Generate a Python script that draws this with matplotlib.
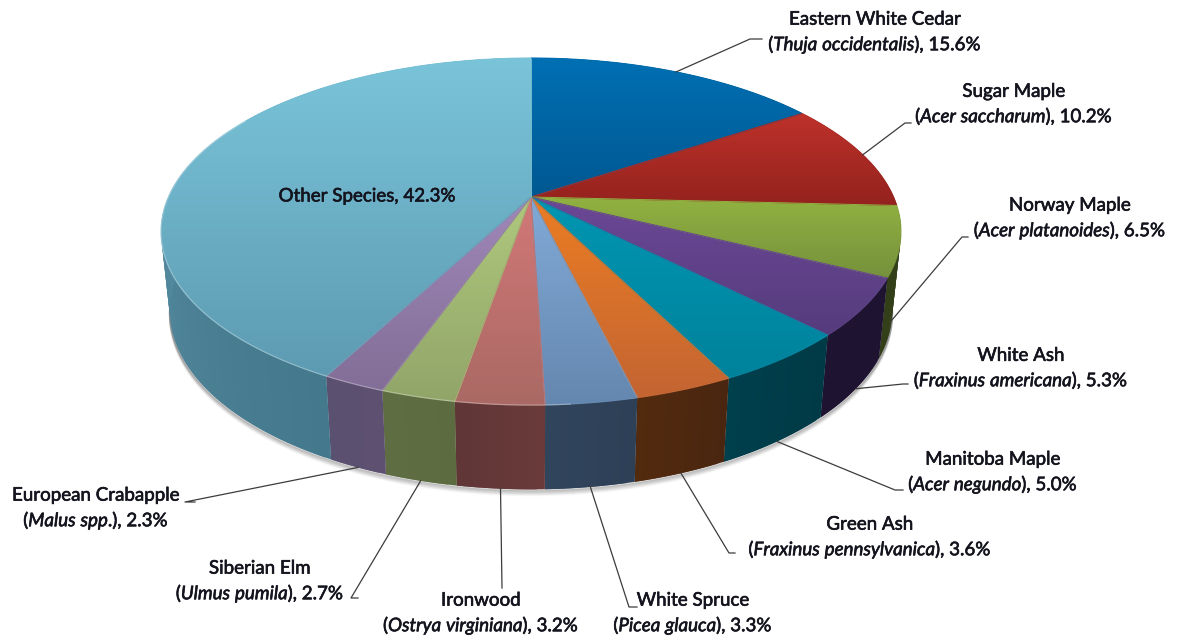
import numpy as np
import matplotlib
matplotlib.use('Agg')
import matplotlib.pyplot as plt
from matplotlib.collections import LineCollection
from matplotlib.patches import Polygon
import matplotlib.patheffects as pe

# species shares, clockwise from 12 o'clock
names = ['Eastern White Cedar', 'Sugar Maple', 'Norway Maple', 'White Ash', 'Manitoba Maple',
         'Green Ash', 'White Spruce', 'Ironwood', 'Siberian Elm', 'European Crabapple', 'Other Species']
latin = ['Thuja occidentalis', 'Acer saccharum', 'Acer platanoides', 'Fraxinus americana', 'Acer negundo',
         'Fraxinus pennsylvanica', 'Picea glauca', 'Ostrya virginiana', 'Ulmus pumila', 'Malus spp', None]
shares = [15.6, 10.2, 6.5, 5.3, 5.0, 3.6, 3.3, 3.2, 2.7, 2.3, 42.3]

# top face gradient, light end then dark end
top_light = ['#0070b4', '#be322a', '#91b241', '#6c4896', '#0096b2', '#eb7d23',
             '#82aad7', '#d27878', '#afc87d', '#a087b9', '#7ac4d9']
top_dark = ['#005891', '#94221e', '#76913c', '#553c7d', '#00829b', '#c36432',
            '#6487af', '#aa6964', '#91a569', '#826e96', '#5d9bb2']
side_a = ['#002a45', '#4a1010', '#323f19', '#1e1432', '#003a46', '#4a2610',
          '#2e4056', '#6a3a3a', '#5c6c40', '#5e5070', '#44788c']
side_b = ['#002a45', '#4a1010', '#323f19', '#1e1432', '#003f4c', '#522a0e',
          '#30445c', '#603636', '#5e6e42', '#5a5070', '#6aa4bc']

# label layout in pixels
label_xy = [(875, 33), (1014, 105), (1070, 219), (1021, 369), (993, 473),
            (870, 538), (693, 614), (481, 614), (260, 582), (96, 509), (367, 196)]
leader_depth = [0, 0, 1, 1, 1, 1, 1, 1, 1, 1, None]
leader_knee = [(750, 39), (905, 123), (962, 237), (903, 384), (895, 490),
               (729, 553), (629, 607), (502, 588), (351, 598), (185, 502), None]
leader_end = [(762, 39), (911, 123), (968, 237), (908, 384), (903, 490),
              (735, 553), (637, 607), None, (358, 598), (195, 502), None]

plt.rcParams['mathtext.fontset'] = 'custom'
plt.rcParams['mathtext.rm'] = 'Lato'
plt.rcParams['mathtext.it'] = 'Lato:italic'
plt.rcParams['font.family'] = ['Lato', 'DejaVu Sans']

# perspective of the tilted disc
cx, cy = 531, 197
rx, ry, k = 362.6, 166.7, 0.199
shrink, drop, stretch = 0.976, 78, 1.03


def top_ring(t):
    u, v = np.sin(t), np.cos(t)
    s = 1 / (1 + k * v)
    return cx + rx * u * s, cy - ry * v * s


def bottom_ring(t):
    x, y = top_ring(t)
    return cx + shrink * (x - cx), cy + drop + stretch * (y - cy)


def hex_rgb(c):
    return np.array(matplotlib.colors.to_rgb(c))


fig = plt.figure(figsize=(11.82, 6.36), dpi=100)
ax = fig.add_axes([0, 0, 1, 1])

edges = np.cumsum([0] + shares) / 100 * 2 * np.pi
mids = (edges[:-1] + edges[1:]) / 2

# soft shadow under the disc
tt = np.linspace(np.radians(95), np.radians(285), 300)
bx, by = bottom_ring(tt)
for off in range(1, 7):
    ax.plot(bx, by + off, color='black', alpha=0.17 * (1 - off / 7), lw=1.5, solid_capstyle='butt', zorder=0.5)

# outer wall, each piece runs a little under the next one so no seams show
for i in range(len(shares)):
    n = max(4, int(shares[i] * 4))
    ts = np.linspace(edges[i], edges[i + 1], n)
    step = ts[1] - ts[0]
    for j in range(n - 1):
        f = j / max(1, n - 2)
        col = hex_rgb(side_a[i]) * (1 - f) + hex_rgb(side_b[i]) * f
        end = ts[j + 1] + (step if j < n - 2 else 0)
        pair = np.linspace(ts[j], end, 4)
        x0, y0 = top_ring(pair)
        x1, y1 = bottom_ring(pair)
        ax.fill(np.r_[x0, x1[::-1]], np.r_[y0, y1[::-1]], fc=col, ec='none', lw=0, zorder=1)

# top face, one clipped gradient per wedge
for i in range(len(shares)):
    ts = np.linspace(edges[i], edges[i + 1], 120)
    x, y = top_ring(ts)
    x = np.r_[cx, x, cx]
    y = np.r_[cy, y, cy]
    light, dark = hex_rgb(top_light[i]), hex_rgb(top_dark[i])
    grad = np.linspace(light, dark, 256)[:, None, :]
    poly = Polygon(np.c_[x, y], closed=True, fc='none', ec='none', transform=ax.transData)
    ax.add_patch(poly)
    im = ax.imshow(grad, extent=(x.min(), x.max(), y.max(), y.min()), aspect='auto', zorder=2)
    im.set_clip_path(poly)
    # soften the clip edge with a stroke that follows the same gradient
    segs = np.stack([np.c_[x[:-1], y[:-1]], np.c_[x[1:], y[1:]]], axis=1)
    f = ((y[:-1] + y[1:]) / 2 - y.min()) / (y.max() - y.min())
    ax.add_collection(LineCollection(segs, colors=light + (dark - light) * f[:, None], lw=0.7, zorder=2.1))

# pale highlight along the front rim
tt = np.linspace(np.radians(175), np.radians(300), 300)
rim_x, rim_y = top_ring(tt)
ax.plot(rim_x, rim_y, color='white', alpha=0.3, lw=0.9, zorder=2.2)

# leader lines
for i in range(len(shares)):
    if leader_knee[i] is None:
        continue
    tx, ty = top_ring(mids[i])
    bx, by = bottom_ring(mids[i])
    d = leader_depth[i]
    xs = [tx + (bx - tx) * d, leader_knee[i][0]]
    ys = [ty + (by - ty) * d, leader_knee[i][1]]
    if leader_end[i] is not None:
        xs.append(leader_end[i][0])
        ys.append(leader_end[i][1])
    ax.plot(xs, ys, color='#3c3c3c', lw=0.9, zorder=3)

# labels
for i in range(len(shares)):
    if latin[i] is None:
        txt = names[i] + ', ' + str(shares[i]) + '%'
    else:
        it = latin[i].replace(' ', r'\ ')
        dot = '.' if latin[i].endswith('spp') else ''
        txt = names[i] + '\n($\\mathit{' + it + '}$' + dot + '), ' + str(shares[i]) + '%'
    t = ax.text(label_xy[i][0], label_xy[i][1], txt, ha='center', va='center', multialignment='center',
                fontsize=13.5, color='#14141e', linespacing=1.26, zorder=4)
    t.set_path_effects([pe.withStroke(linewidth=0.45, foreground='#14141e')])

ax.set_xlim(0, 1182)
ax.set_ylim(636, 0)
ax.axis('off')
fig.savefig('out.png', dpi=100)
